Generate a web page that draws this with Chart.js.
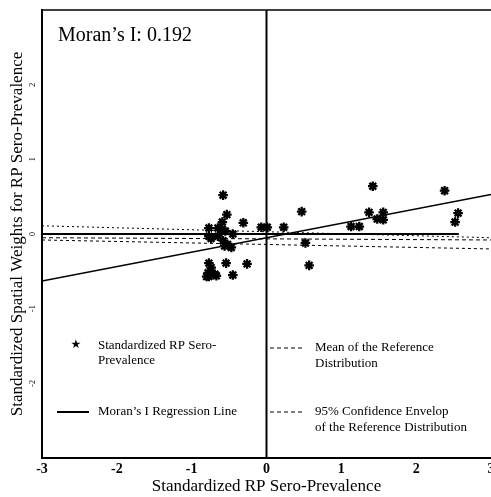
<html>
  <body style="margin:0;background:#fff">
    <script src="https://cdn.jsdelivr.net/npm/chart.js@4.4.0/dist/chart.umd.min.js"></script>
    <canvas id="myChart" width="491" height="497"></canvas>
    <script>
      // standardized RP sero-prevalence (x) vs spatial lag (y)
      var xValues = [-0.58, -0.53, -0.59, -0.31, -0.07, 0.01, 0.23, 0.47, 0.52, 0.57,
        1.42, 1.37, 1.56, 1.48, 1.56, 1.13, 1.24, 2.38, 2.56, 2.52,
        -0.77, -0.65, -0.60, -0.55, -0.45, -0.77, -0.74, -0.65, -0.58, -0.52, -0.47, -0.56,
        -0.54, -0.26, -0.45, -0.77, -0.74, -0.78, -0.69, -0.77, -0.67, -0.80];
      var yValues = [0.52, 0.26, 0.16, 0.15, 0.09, 0.09, 0.09, 0.30, -0.12, -0.42,
        0.64, 0.29, 0.29, 0.20, 0.19, 0.10, 0.10, 0.58, 0.28, 0.16,
        0.08, 0.08, 0.06, 0.04, 0.00, -0.03, -0.06, -0.03, -0.09, -0.14, -0.18, -0.16,
        -0.39, -0.40, -0.55, -0.39, -0.45, -0.52, -0.54, -0.57, -0.56, -0.57];
      var regressionLine = [[-3, -0.63], [3, 0.53]];
      var zeroLine = [[-3, 0], [2.57, 0]];
      var meanLine = [[-3, -0.05], [3, -0.08]];
      var upperEnvelope = [[-3, 0.11], [3, -0.05]];
      var lowerEnvelope = [[-3, -0.08], [3, -0.2]];
      var verticalAxis = [[0, -3], [0, 3]];
      var xTickLabels = [-3, -2, -1, 0, 1, 2, 3];
      var yTickLabels = [2, 1, 0, -1, -2];

      var toPts = function (arr) {
        return arr.map(function (p) { return { x: p[0], y: p[1] }; });
      };
      var points = xValues.map(function (x, i) { return { x: x, y: yValues[i] }; });

      var lineSet = function (data, width, dash) {
        return {
          data: toPts(data), showLine: true, pointRadius: 0, borderColor: "#000",
          borderWidth: width, borderDash: dash, fill: false
        };
      };

      var serif = "Liberation Serif";

      var overlay = {
        id: "overlay",
        afterDraw: function (chart) {
          var ctx = chart.ctx;
          var a = chart.chartArea;
          var xs = chart.scales.x;
          var ys = chart.scales.y;
          ctx.save();
          // frame top
          ctx.strokeStyle = "#000";
          ctx.lineWidth = 1.5;
          ctx.beginPath();
          ctx.moveTo(a.left, a.top);
          ctx.lineTo(a.right, a.top);
          ctx.stroke();
          ctx.fillStyle = "#000";
          // x tick labels
          ctx.font = "bold 14px " + serif;
          ctx.textAlign = "center";
          ctx.textBaseline = "middle";
          xTickLabels.forEach(function (v) {
            ctx.fillText(String(v), xs.getPixelForValue(v), 469);
          });
          // rotated y tick labels
          ctx.font = "8px " + serif;
          yTickLabels.forEach(function (v) {
            ctx.save();
            ctx.translate(33, ys.getPixelForValue(v));
            ctx.rotate(-Math.PI / 2);
            ctx.fillText(String(v), 0, 0);
            ctx.restore();
          });
          // statistic label
          ctx.textAlign = "left";
          ctx.textBaseline = "alphabetic";
          ctx.font = "20px " + serif;
          ctx.fillText("Moran\u2019s I: 0.192", 58, 41);
          // legend
          ctx.font = "13px " + serif;
          ctx.textBaseline = "middle";
          ctx.fillText("Standardized RP Sero-", 98, 346);
          ctx.fillText("Prevalence", 98, 361);
          ctx.fillText("Moran\u2019s I Regression Line", 98, 412);
          ctx.fillText("Mean of the Reference", 315, 348);
          ctx.fillText("Distribution", 315, 364);
          ctx.fillText("95% Confidence Envelop", 315, 412);
          ctx.fillText("of the Reference Distribution", 315, 428);
          ctx.font = "12px DejaVu Sans";
          ctx.textAlign = "center";
          ctx.fillText("\u2605", 76, 345);
          ctx.lineWidth = 2;
          ctx.beginPath();
          ctx.moveTo(57, 412);
          ctx.lineTo(89, 412);
          ctx.stroke();
          ctx.lineWidth = 1;
          ctx.setLineDash([4, 3]);
          [348, 412].forEach(function (y) {
            ctx.beginPath();
            ctx.moveTo(270, y);
            ctx.lineTo(304, y);
            ctx.stroke();
          });
          ctx.restore();
        }
      };

      var ctx = document.getElementById("myChart").getContext("2d");
      var myChart = new Chart(ctx, {
        type: "scatter",
        data: {
          datasets: [
            {
              data: points, pointStyle: "star", pointRadius: 4.8, borderColor: "#000",
              backgroundColor: "#000", borderWidth: 2.3
            },
            lineSet(regressionLine, 1.4, []),
            lineSet(zeroLine, 2, []),
            lineSet(meanLine, 1, [4, 3]),
            lineSet(upperEnvelope, 1, [2, 3]),
            lineSet(lowerEnvelope, 1, [3, 3]),
            lineSet(verticalAxis, 2, [])
          ]
        },
        options: {
          responsive: false,
          animation: false,
          layout: { autoPadding: false, padding: { top: 10, right: 0, left: 0, bottom: 0 } },
          plugins: { legend: { display: false }, tooltip: { enabled: false } },
          scales: {
            x: {
              type: "linear", min: -3, max: 3,
              grid: { display: false, drawTicks: false },
              border: { display: true, color: "#000", width: 2 },
              ticks: { display: false },
              title: {
                display: true, text: "Standardized RP Sero-Prevalence", color: "#000",
                font: { family: serif, size: 17 }, padding: { top: 0, bottom: 0 }
              },
              afterFit: function (scale) {
                scale.height = 39;
              }
            },
            y: {
              type: "linear", min: -3, max: 3,
              grid: { display: false, drawTicks: false },
              border: { display: true, color: "#000", width: 2 },
              ticks: { display: false },
              title: {
                display: true, text: "Standardized Spatial Weights for RP Sero-Prevalence",
                color: "#000", font: { family: serif, size: 17 }, padding: { top: 7, bottom: 0 }
              },
              afterFit: function (scale) {
                scale.width = 42;
              }
            }
          }
        },
        plugins: [overlay]
      });
    </script>
  </body>
</html>
